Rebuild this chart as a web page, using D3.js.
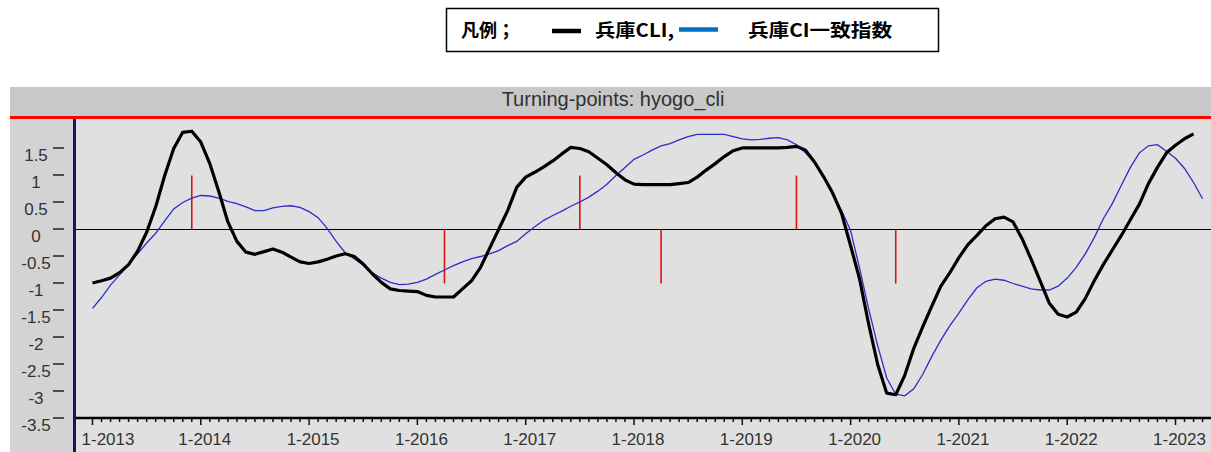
<!DOCTYPE html>
<html>
<head>
<meta charset="utf-8">
<script src="https://cdn.jsdelivr.net/npm/d3@7"></script>
<style>
  body { margin: 0; background: #fff; }
  svg { display: block; }
</style>
</head>
<body>
<svg width="1211" height="452"></svg>
<script>
// monthly values from 1-2013
var cli = [
  -0.99, -0.95, -0.90, -0.80, -0.65, -0.40, -0.05, 0.42, 1.00, 1.50, 1.80, 1.82,
  1.62, 1.22, 0.70, 0.14, -0.22, -0.42, -0.46, -0.41, -0.36, -0.42, -0.51, -0.60,
  -0.63, -0.60, -0.55, -0.49, -0.45, -0.50, -0.64, -0.82, -0.98, -1.10, -1.13, -1.14,
  -1.15, -1.22, -1.25, -1.25, -1.25, -1.10, -0.95, -0.70, -0.35, 0.00, 0.35, 0.78,
  0.97, 1.06, 1.16, 1.27, 1.40, 1.52, 1.50, 1.44, 1.32, 1.20, 1.05, 0.92,
  0.84, 0.83, 0.83, 0.83, 0.83, 0.85, 0.87, 0.97, 1.10, 1.22, 1.35, 1.46,
  1.51, 1.51, 1.51, 1.51, 1.51, 1.52, 1.54, 1.47, 1.25, 0.98, 0.68, 0.30,
  -0.30, -0.92, -1.75, -2.50, -3.03, -3.06, -2.70, -2.20, -1.80, -1.42, -1.05, -0.80,
  -0.52, -0.28, -0.11, 0.07, 0.20, 0.23, 0.14, -0.17, -0.55, -0.95, -1.36, -1.57,
  -1.62, -1.53, -1.28, -0.95, -0.65, -0.38, -0.11, 0.18, 0.47, 0.85, 1.15, 1.42,
  1.56, 1.68, 1.77
];

var ci = [
  -1.46, -1.26, -1.03, -0.84, -0.64, -0.45, -0.25, -0.07, 0.16, 0.38, 0.50, 0.58,
  0.63, 0.62, 0.58, 0.52, 0.48, 0.42, 0.35, 0.35, 0.40, 0.43, 0.44, 0.41,
  0.33, 0.22, 0.02, -0.22, -0.43, -0.54, -0.66, -0.80, -0.90, -0.98, -1.02, -1.01,
  -0.98, -0.92, -0.83, -0.75, -0.67, -0.60, -0.54, -0.50, -0.45, -0.39, -0.30, -0.22,
  -0.08, 0.05, 0.17, 0.26, 0.34, 0.43, 0.51, 0.60, 0.71, 0.84, 1.00, 1.15,
  1.30, 1.38, 1.47, 1.55, 1.59, 1.66, 1.72, 1.76, 1.76, 1.76, 1.76, 1.72,
  1.68, 1.66, 1.67, 1.69, 1.70, 1.66, 1.57, 1.42, 1.24, 0.98, 0.65, 0.35,
  -0.02, -0.72, -1.47, -2.15, -2.75, -3.05, -3.08, -2.95, -2.68, -2.35, -2.05, -1.78,
  -1.55, -1.30, -1.08, -0.96, -0.92, -0.94, -1.00, -1.05, -1.10, -1.12, -1.12, -1.05,
  -0.90, -0.70, -0.45, -0.15, 0.20, 0.48, 0.82, 1.15, 1.42, 1.55, 1.57, 1.45,
  1.32, 1.13, 0.87, 0.57
];

var yearLabels = ["1-2013", "1-2014", "1-2015", "1-2016", "1-2017", "1-2018",
  "1-2019", "1-2020", "1-2021", "1-2022", "1-2023"];
var yTicks = [1.5, 1, 0.5, 0, -0.5, -1, -1.5, -2, -2.5, -3, -3.5];
var peaks = [11, 54, 78];     // month index of peaks
var troughs = [39, 63, 89];   // month index of troughs

var svg = d3.select("svg");
var W = 1211;

var x = d3.scaleLinear().domain([0, 12]).range([92.5, 200.8]);
var y = d3.scaleLinear().domain([0, -3.5]).range([229.5, 418.5]);

// backgrounds
svg.append("rect").attr("x", 10).attr("y", 87).attr("width", W - 10).attr("height", 30).attr("fill", "#c8c8c8");
svg.append("rect").attr("x", 10).attr("y", 117).attr("width", W - 10).attr("height", 335).attr("fill", "#e0e0e0");
svg.append("rect").attr("x", 10).attr("y", 117).attr("width", 63).attr("height", 335).attr("fill", "#d3d3d3");
svg.append("line").attr("x1", 10).attr("x2", W).attr("y1", 117.5).attr("y2", 117.5)
  .attr("stroke", "#ff0000").attr("stroke-width", 3);

svg.append("text")
  .attr("x", 613).attr("y", 106)
  .attr("text-anchor", "middle")
  .attr("font-family", "Arial, 'Liberation Sans', sans-serif")
  .attr("font-size", 20)
  .attr("fill", "#303030")
  .text("Turning-points: hyogo_cli");

// y axis ticks and labels
var yg = svg.append("g");
yg.selectAll("line").data(yTicks).enter().append("line")
  .attr("x1", 53).attr("x2", 64)
  .attr("y1", function (d) { return y(d) - 0.5; })
  .attr("y2", function (d) { return y(d) - 0.5; })
  .attr("stroke", "#222").attr("stroke-width", 1.5);
yg.selectAll("text").data(yTicks).enter().append("text")
  .attr("x", 36)
  .attr("y", function (d) { return y(d) + 12; })
  .attr("text-anchor", "middle")
  .attr("font-family", "Arial, 'Liberation Sans', sans-serif")
  .attr("font-size", 17)
  .attr("fill", "#333")
  .text(function (d) { return d; });

// x axis: monthly ticks
var months = d3.range(0, 124);
var xg = svg.append("g");
xg.selectAll("line").data(months).enter().append("line")
  .attr("x1", function (d) { return x(d); })
  .attr("x2", function (d) { return x(d); })
  .attr("y1", 418)
  .attr("y2", function (d) { return d % 12 === 0 ? 425 : 422; })
  .attr("stroke", "#111").attr("stroke-width", 1.5);
xg.selectAll("text").data(yearLabels).enter().append("text")
  .attr("x", function (d, i) { return Math.max(x(i * 12) + 4, 108); })
  .attr("y", 445)
  .attr("text-anchor", "middle")
  .attr("font-family", "Arial, 'Liberation Sans', sans-serif")
  .attr("font-size", 17)
  .attr("fill", "#333")
  .text(function (d) { return d; });

svg.append("line").attr("x1", 75).attr("x2", W).attr("y1", 418).attr("y2", 418)
  .attr("stroke", "#000").attr("stroke-width", 2.5);

// zero line
svg.append("line").attr("x1", 75).attr("x2", W).attr("y1", y(0)).attr("y2", y(0))
  .attr("stroke", "#000").attr("stroke-width", 1);

// turning points
var tp = svg.append("g").attr("stroke", "#e01010").attr("stroke-width", 1.6);
tp.selectAll(".pk").data(peaks).enter().append("line")
  .attr("x1", function (d) { return x(d); }).attr("x2", function (d) { return x(d); })
  .attr("y1", y(0)).attr("y2", y(1));
tp.selectAll(".tr").data(troughs).enter().append("line")
  .attr("x1", function (d) { return x(d); }).attr("x2", function (d) { return x(d); })
  .attr("y1", y(0)).attr("y2", y(-1));

// series
var line = d3.line()
  .x(function (d, i) { return x(i); })
  .y(function (d) { return y(d); });

svg.append("path").datum(ci)
  .attr("d", line).attr("fill", "none")
  .attr("stroke", "#2d2dc8").attr("stroke-width", 1.3);

svg.append("path").datum(cli)
  .attr("d", line).attr("fill", "none")
  .attr("stroke", "#000").attr("stroke-width", 3.2)
  .attr("stroke-linejoin", "round");

// y axis line
svg.append("line").attr("x1", 74.5).attr("x2", 74.5).attr("y1", 119).attr("y2", 452)
  .attr("stroke", "#141464").attr("stroke-width", 3);

// legend
var lg = svg.append("g");
lg.append("rect").attr("x", 446.5).attr("y", 8.5).attr("width", 492).attr("height", 43)
  .attr("fill", "#fff").attr("stroke", "#000").attr("stroke-width", 1.5);
var lf = "'Noto Sans CJK JP', sans-serif";
lg.append("text").attr("x", 461).attr("y", 37).attr("font-family", lf)
  .attr("font-weight", "bold").attr("font-size", 18).text("凡例；");
lg.append("line").attr("x1", 552).attr("x2", 581).attr("y1", 31).attr("y2", 31)
  .attr("stroke", "#000").attr("stroke-width", 4.5);
lg.append("text").attr("x", 595).attr("y", 37).attr("font-family", lf)
  .attr("font-weight", "bold").attr("font-size", 18)
  .attr("textLength", 79).attr("lengthAdjust", "spacingAndGlyphs").text("兵庫CLI,");
lg.append("line").attr("x1", 679).attr("x2", 718).attr("y1", 29.5).attr("y2", 29.5)
  .attr("stroke", "#0070c0").attr("stroke-width", 4.5);
lg.append("text").attr("x", 748).attr("y", 37).attr("font-family", lf)
  .attr("font-weight", "bold").attr("font-size", 18)
  .attr("textLength", 144).attr("lengthAdjust", "spacingAndGlyphs").text("兵庫CI一致指数");
</script>
</body>
</html>
